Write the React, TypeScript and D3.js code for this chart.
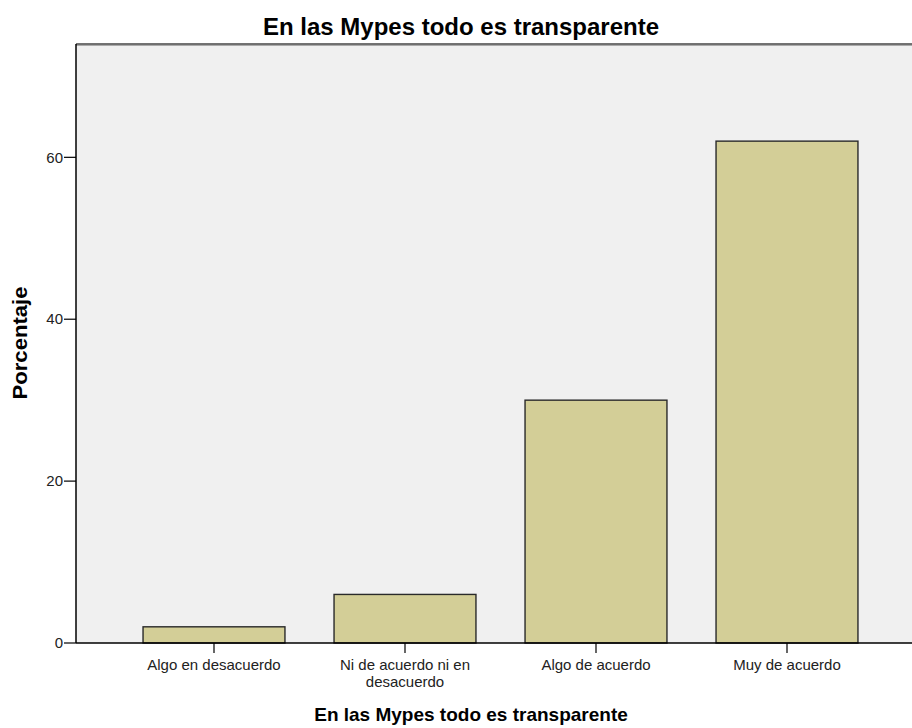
import React from "react";
import * as d3 from "d3";

const categories = ["Algo en desacuerdo", "Ni de acuerdo ni en desacuerdo", "Algo de acuerdo", "Muy de acuerdo"];
const categoryLines = [["Algo en desacuerdo"], ["Ni de acuerdo ni en", "desacuerdo"], ["Algo de acuerdo"], ["Muy de acuerdo"]];
const values = [2, 6, 30, 62];
const yTicks = [0, 20, 40, 60];
const title = "En las Mypes todo es transparente";
const xTitle = "En las Mypes todo es transparente";
const yTitle = "Porcentaje";

export default function App() {
  const W = 912, H = 728;
  const left = 76, top = 44, bottom = 643, right = 930;
  const y = d3.scaleLinear().domain([0, 74]).range([bottom, top]);
  const x = d3.scaleBand().domain(categories).range([118.5, 882.5]).paddingInner(0.257).paddingOuter(0.1285);
  const font = "'Liberation Sans', Arial, sans-serif";
  return (
    <svg width={W} height={H} style={{ position: "absolute", left: 0, top: 0, background: "#fff" }} fontFamily={font}>
      <rect x={left} y={top} width={right - left} height={bottom - top} fill="#F0F0F0" />
      <line x1={left} x2={right} y1={top} y2={top} stroke="#444" strokeWidth={1.5} />
      <line x1={left} x2={right} y1={top + 1.5} y2={top + 1.5} stroke="#aaa" strokeWidth={1} />
      {categories.map((c, i) => (
        <rect key={c} x={x(c)!} y={y(values[i])} width={x.bandwidth()} height={bottom - y(values[i])}
          fill="#D3CE97" stroke="#2a2a2a" strokeWidth={1.4} />
      ))}
      <line x1={left} x2={left} y1={top} y2={bottom} stroke="#000" strokeWidth={1.5} />
      <line x1={left} x2={right} y1={bottom} y2={bottom} stroke="#000" strokeWidth={1.5} />
      {yTicks.map(t => (
        <g key={t}>
          <line x1={left - 12} x2={left} y1={y(t)} y2={y(t)} stroke="#000" strokeWidth={1.2} />
          <text x={left - 13} y={y(t)} dy="0.35em" textAnchor="end" fontSize={15} fill="#222">{t}</text>
        </g>
      ))}
      {categories.map((c, i) => {
        const cx = x(c)! + x.bandwidth() / 2;
        return (
          <g key={c}>
            <line x1={cx} x2={cx} y1={bottom} y2={bottom + 10} stroke="#000" strokeWidth={1.2} />
            {categoryLines[i].map((l, j) => (
              <text key={j} x={cx} y={670 + j * 17} textAnchor="middle" fontSize={15} fill="#222">{l}</text>
            ))}
          </g>
        );
      })}
      <text x={461} y={35} textAnchor="middle" fontSize={24} fontWeight="bold" fill="#000">{title}</text>
      <text x={471} y={721} textAnchor="middle" fontSize={19} fontWeight="bold" fill="#000">{xTitle}</text>
      <text transform={`translate(27,343) rotate(-90)`} textAnchor="middle" fontSize={20} fontWeight="bold" fill="#000"
        textLength={113} lengthAdjust="spacingAndGlyphs">{yTitle}</text>
    </svg>
  );
}
